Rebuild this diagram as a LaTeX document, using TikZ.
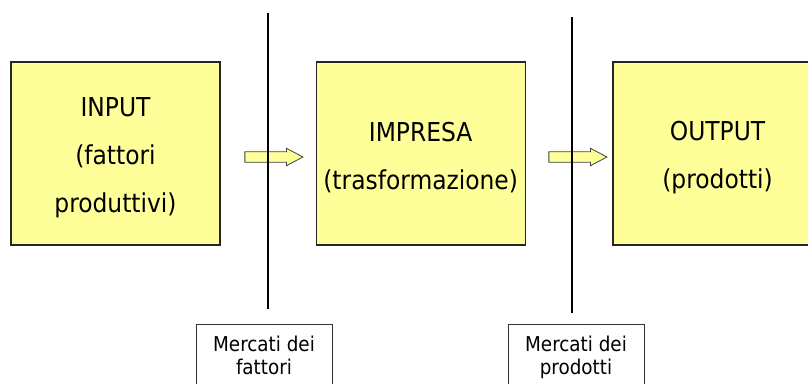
\documentclass[tikz,border=0pt]{standalone}
\usepackage{fontspec}
\setmainfont{DejaVu Sans Condensed}
\usepackage{tikz}
\usetikzlibrary{shapes.arrows, positioning}
\definecolor{boxyellow}{RGB}{255,255,153}
\newcommand{\lift}{\rule{0pt}{21pt}}

\begin{document}
\begin{tikzpicture}[
    x=0.75pt, y=-0.75pt,
    stage/.style={rectangle, draw=black!85, line width=0.9pt, fill=boxyellow, minimum width=156.75pt, minimum height=137.25pt, align=center, font=\fontsize{19.5}{36}\selectfont},
    bigarrow/.style={single arrow, draw=black!75, fill=boxyellow, line width=0.6pt, inner sep=0pt, inner ysep=3.6pt, minimum height=43.5pt, single arrow head extend=2.6pt, single arrow tip angle=56},
    cut/.style={line width=1.5pt},
    market/.style={rectangle, draw=black!80, line width=0.6pt, fill=white, minimum width=102pt, inner ysep=9pt, text depth=30pt, align=center, font=\fontsize{15.3}{17.25}\selectfont}
]
\useasboundingbox (0,0) rectangle (808,383);

% Stages
\node[stage] (input) at (115.5,153.5) {\lift INPUT\\(fattori\\produttivi)};
\node[stage, right=71.25pt of input] (firm) {\lift IMPRESA\\(trasformazione)};
\node[stage, right=65pt of firm] (output) {\lift OUTPUT\\(prodotti)};

% Flows
\node[bigarrow] (flow1) at (269,157) {};
\node[bigarrow] (flow2) at (573,157) {};

% Market cuts
\coordinate (cut1top) at (267.5,13);
\coordinate (cut1bot) at (267.5,309);
\coordinate (cut2top) at (571.7,17);
\coordinate (cut2bot) at (571.7,313);
\draw[cut] (cut1top) -- (cut1bot);
\draw[cut] (cut2top) -- (cut2bot);

% Markets
\node[market, anchor=north] (factors) at (264,324) {Mercati dei\\fattori};
\node[market, anchor=north] (products) at (576,324) {Mercati dei\\prodotti};

\end{tikzpicture}
\end{document}
